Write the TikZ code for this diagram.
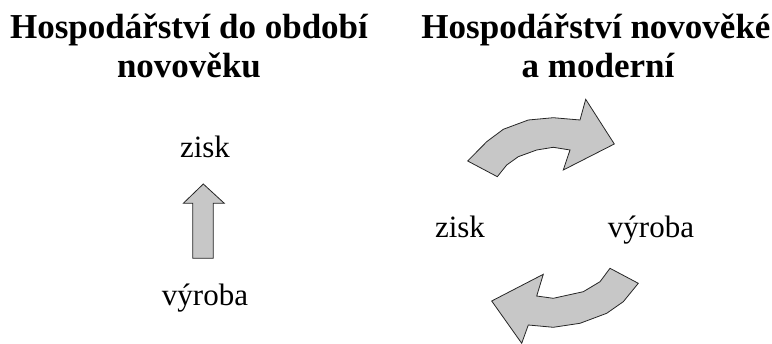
\documentclass[tikz,border=0pt]{standalone}
\usepackage{fontspec}
\setmainfont{Liberation Serif}
\usepackage{tikz}

\tikzset{
	heading/.style={anchor=base, inner sep=0pt, font=\fontsize{35}{39}\selectfont\bfseries},
	term/.style={anchor=base, inner sep=0pt, font=\fontsize{31}{35}\selectfont},
	blockarrow/.style={draw=black!85, fill=black!22, line width=0.8pt, line join=miter}
}

\begin{document}
\begin{tikzpicture}[x=1pt, y=-1pt]
				\useasboundingbox (0, 0) rectangle (772, 344);
				\node[heading] (headL1) at (189, 39) {Hospodářství do období};
				\node[heading] (headL2) at (189, 78) {novověku};
				\node[heading] (headR1) at (596, 39) {Hospodářství novověké};
				\node[heading] (headR2) at (598, 78) {a moderní};
				\node[term] (ziskL) at (205, 158) {zisk};
				\node[term] (vyrobaL) at (205, 306) {výroba};
				\node[term] (ziskR) at (460, 238) {zisk};
				\node[term] (vyrobaR) at (651, 238) {výroba};
				\draw[blockarrow] (192.7, 258.3) -- (192.7, 203.3) -- (183.3, 203.3) -- (203.3, 184)
					-- (224.3, 203.3) -- (213.3, 203.3) -- (213.3, 258.3) -- cycle;
				\draw[blockarrow] (467.7, 161) -- (486.7, 141.7) -- (503.3, 129.3) -- (528.3, 120)
					-- (553.3, 117.7) -- (580, 120) -- (585.7, 99.3) -- (614.3, 144) -- (563.3, 170)
					-- (570, 150) -- (553.3, 147.3) -- (536.7, 150) -- (518.3, 156.7) -- (506.7, 165)
					-- (497.3, 176.7) -- cycle;
				\draw[blockarrow] (610, 268.3) -- (638.3, 283.3) -- (623.3, 301.7) -- (606.7, 313.3)
					-- (580, 323.3) -- (553.3, 327.3) -- (528.3, 325) -- (521.7, 343.3) -- (491.7, 301)
					-- (543.3, 274.3) -- (536.7, 296) -- (553.3, 298.3) -- (583.3, 291.7) -- (600, 281.7)
					-- cycle;
			\end{tikzpicture}
\end{document}
